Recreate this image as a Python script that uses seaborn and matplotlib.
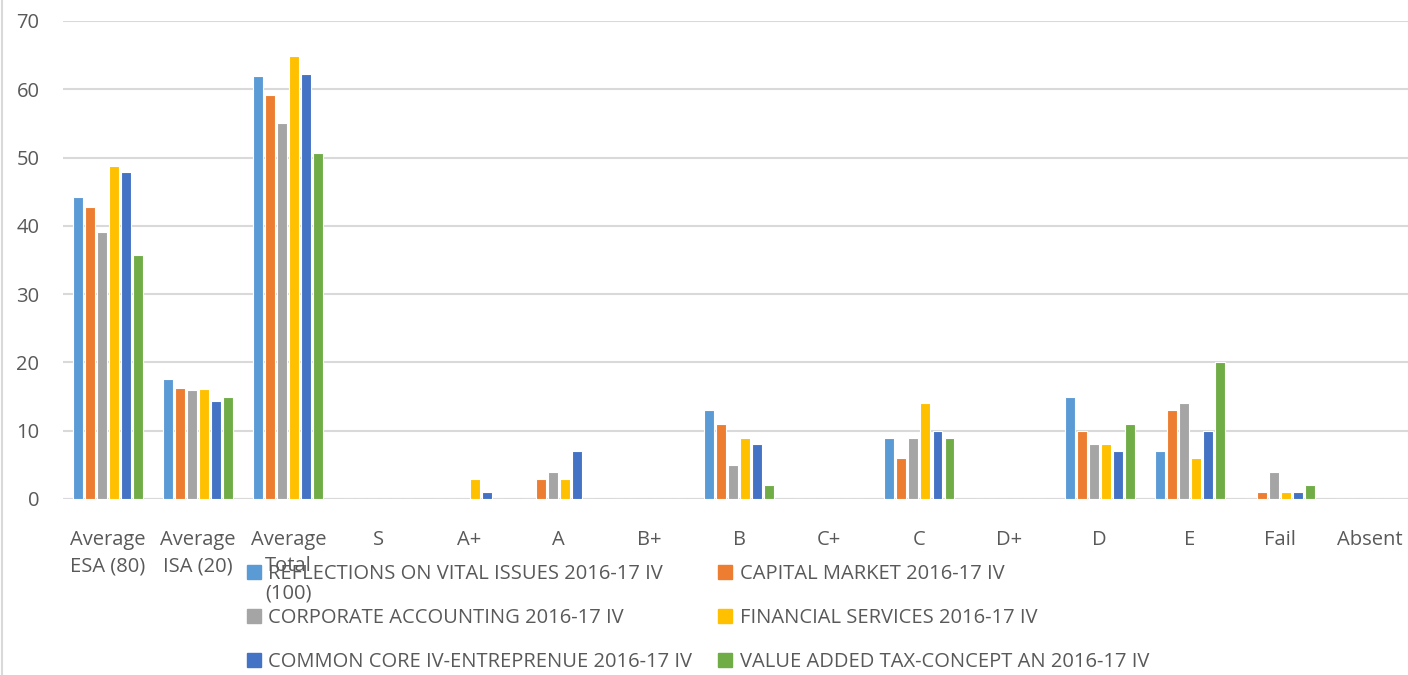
import pandas as pd
import matplotlib
matplotlib.use("Agg")
import matplotlib.pyplot as plt
import seaborn as sns

sns.set_style("white")
plt.rcParams['font.family'] = ['Open Sans', 'DejaVu Sans']

# Chart data
categories = ["Average\nESA (80)", "Average\nISA (20)", "Average\nTotal\n(100)", "S", "A+", "A",
              "B+", "B", "C+", "C", "D+", "D", "E", "Fail", "Absent"]
series = ["REFLECTIONS ON VITAL ISSUES 2016-17 IV", "CAPITAL MARKET 2016-17 IV",
          "CORPORATE ACCOUNTING 2016-17 IV", "FINANCIAL SERVICES 2016-17 IV",
          "COMMON CORE IV-ENTREPRENUE 2016-17 IV", "VALUE ADDED TAX-CONCEPT AN 2016-17 IV"]
reflections = [44.2, 17.6, 61.9, 0, 0, 0, 0, 13, 0, 9, 0, 15, 7, 0, 0]
capital = [42.8, 16.3, 59.2, 0, 0, 3, 0, 11, 0, 6, 0, 10, 13, 1, 0]
corporate = [39.1, 16.0, 55.1, 0, 0, 4, 0, 5, 0, 9, 0, 8, 14, 4, 0]
financial = [48.7, 16.1, 64.9, 0, 3, 3, 0, 9, 0, 14, 0, 8, 6, 1, 0]
common_core = [47.9, 14.3, 62.3, 0, 1, 7, 0, 8, 0, 10, 0, 7, 10, 1, 0]
vat = [35.7, 14.9, 50.6, 0, 0, 0, 0, 2, 0, 9, 0, 11, 20, 2, 0]
colors = ["#5B9BD5", "#ED7D31", "#A5A5A5", "#FFC000", "#4472C4", "#70AD47"]

wide = pd.DataFrame({"category": categories, series[0]: reflections, series[1]: capital,
                     series[2]: corporate, series[3]: financial, series[4]: common_core,
                     series[5]: vat})
df = wide.melt(id_vars="category", var_name="series", value_name="value")

fig = plt.figure(figsize=(14.08, 6.75), dpi=100)
ax = fig.add_axes([63 / 1408, 1 - 499 / 675, (1408 - 63) / 1408, 478 / 675])

sns.barplot(data=df, x="category", y="value", hue="series", hue_order=series,
            palette=colors, saturation=1, width=0.8, gap=0.18, edgecolor="white",
            linewidth=0.8, ax=ax, legend=False)

ax.set_ylim(0, 70)
ax.set_xlim(-0.5, 14.42)
ax.set_yticks(range(0, 71, 10))
ax.yaxis.grid(True, color="#D9D9D9", linewidth=1.5)
ax.set_axisbelow(True)
for s in ax.spines.values():
    s.set_visible(False)
ax.axhline(0, color="#D9D9D9", linewidth=1.5, zorder=0)
ax.set_xlabel("")
ax.set_ylabel("")
ax.tick_params(axis="both", length=0, labelsize=14.5, colors="#595959")
ax.tick_params(axis="y", pad=17)
ax.tick_params(axis="x", pad=22)
for lbl in ax.get_xticklabels():
    lbl.set_linespacing(1.45)

# legend, two columns filled row by row
handles = [plt.Rectangle((0, 0), 1, 1, color=c) for c in colors]
order = [0, 2, 4, 1, 3, 5]
fig.legend([handles[i] for i in order], [series[i] for i in order], ncol=2,
           loc="upper left", bbox_to_anchor=(237 / 1408, 1 - 554 / 675), frameon=False,
           fontsize=14.5, labelcolor="#595959", handlelength=0.7, handleheight=0.7,
           handletextpad=0.35, labelspacing=1.2, columnspacing=1.3, borderpad=0)

fig.add_artist(plt.Line2D([2 / 1408, 2 / 1408], [0, 1], color="#D9D9D9", linewidth=1.5))

fig.savefig("out.png", dpi=100)
